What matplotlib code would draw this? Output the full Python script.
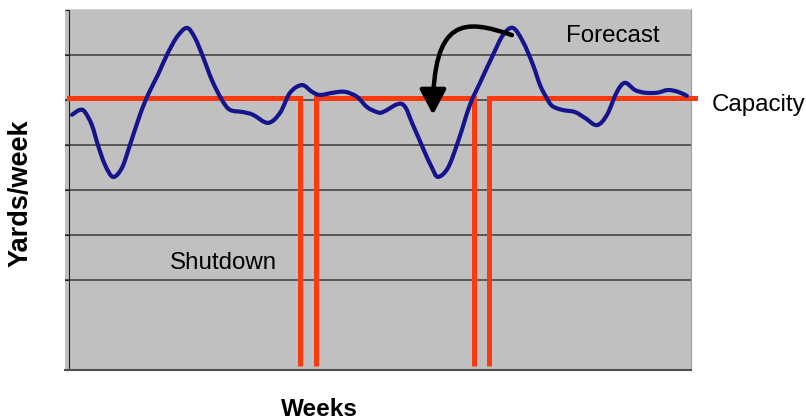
import matplotlib
matplotlib.use("Agg")
import matplotlib.pyplot as plt
import numpy as np
from matplotlib.path import Path
from matplotlib.patches import FancyArrowPatch, PathPatch

plt.rcParams['font.family'] = ['Liberation Sans', 'DejaVu Sans']

# forecast (weeks, yards/week in grid units)
weeks = [0.25, 0.92, 1.34, 1.92, 2.42, 3.01, 3.68, 4.43, 5.10, 5.94, 6.60, 7.44,
         8.19, 9.03, 9.86, 10.53, 11.20, 11.95, 12.79, 13.46, 14.55, 15.38, 16.64,
         17.64, 18.48, 19.48, 20.32, 20.98, 22.07, 23.07, 24.08, 24.92, 25.75, 26.25,
         27.84, 28.76, 29.59, 30.35, 30.85, 31.68, 32.52, 33.52, 34.36, 35.45, 36.28,
         37.12, 37.96, 38.79, 39.38, 39.88, 40.38, 41.21, 42.30, 43.14, 44.14, 44.98,
         45.81, 46.48, 47.32, 48.15, 49.16, 50.07, 50.91, 51.66]
forecast = [5.67, 5.78, 5.73, 5.44, 5.00, 4.56, 4.29, 4.49, 5.00, 5.67, 6.11, 6.56,
            7.00, 7.40, 7.60, 7.38, 6.96, 6.44, 6.00, 5.78, 5.73, 5.67, 5.49,
            5.71, 6.16, 6.33, 6.18, 6.11, 6.16, 6.18, 6.07, 5.84, 5.73, 5.73,
            5.91, 5.44, 4.93, 4.49, 4.29, 4.49, 5.07, 5.89, 6.38, 7.00, 7.44,
            7.60, 7.29, 6.78, 6.33, 6.07, 5.87, 5.78, 5.73, 5.60, 5.44, 5.67,
            6.18, 6.38, 6.22, 6.16, 6.16, 6.22, 6.18, 6.09]

capacity = 6.04
shutdowns = [(19.31, 20.65), (33.86, 35.11)]
floor = 0.08
tick_levels = [0, 2, 3, 4, 5, 6, 7, 8]


def smooth_path(xs, ys):
    # smoothed line like a spreadsheet chart: bezier segments through the points
    p = np.column_stack([xs, ys])
    verts = [p[0]]
    codes = [Path.MOVETO]
    for i in range(len(p) - 1):
        p0 = p[i - 1] if i > 0 else p[i]
        p3 = p[i + 2] if i + 2 < len(p) else p[i + 1]
        c1 = p[i] + (p[i + 1] - p0) / 6
        c2 = p[i + 1] - (p3 - p[i]) / 6
        verts += [c1, c2, p[i + 1]]
        codes += [Path.CURVE4] * 3
    return Path(verts, codes)


fig = plt.figure(figsize=(8.06, 4.19), dpi=100)
ax = fig.add_axes([65 / 806, 49 / 419, 626 / 806, 361 / 419])
ax.set_facecolor('#c0c0c0')
ax.set_xlim(-0.33, 52)
ax.set_ylim(0, 8.02)

for g in range(2, 8):
    ax.axhline(g, color='#3a3a3a', lw=1.1, zorder=1)

# capacity line, broken by the two shutdowns
orange = '#fc3a0e'
starts = [0] + [b for a, b in shutdowns]
ends = [a for a, b in shutdowns] + [52.3]
for s, e in zip(starts, ends):
    ax.plot([s, e], [capacity, capacity], color=orange, lw=3.6,
            solid_capstyle='projecting', zorder=3, clip_on=False)
for a, b in shutdowns:
    for x in (a, b):
        ax.plot([x, x], [floor, capacity], color=orange, lw=3.6,
                solid_capstyle='butt', zorder=3)

ax.add_patch(PathPatch(smooth_path(weeks, forecast), facecolor='none',
                       edgecolor='#14148c', lw=3, joinstyle='round',
                       capstyle='round', zorder=4))

arrow_path = Path([(37.03, 7.44), (33.1, 7.80), (30.43, 7.85), (30.43, 5.67)],
                  [Path.MOVETO, Path.CURVE4, Path.CURVE4, Path.CURVE4])
arrow = FancyArrowPatch(path=arrow_path,
                        arrowstyle='-|>,head_length=0.95,head_width=0.5',
                        mutation_scale=16, color='black', lw=3.2, zorder=5)
ax.add_patch(arrow)

ax.text(41.55, 7.43, 'Forecast', fontsize=17.4, ha='left', va='center')
ax.text(8.4, 2.38, 'Shutdown', fontsize=17.4, ha='left', va='center')
fig.text(712 / 806, 1 - 105 / 419, 'Capacity', fontsize=17.4, ha='left', va='center')
fig.text(319.5 / 806, 1 - 409 / 419, 'Weeks', fontsize=17.5, fontweight='bold',
         ha='center', va='center')
fig.text(21 / 806, 1 - 193 / 419, 'Yards/week', fontsize=19.5, fontweight='bold',
         rotation=90, ha='center', va='center')

ax.set_xticks([])
ax.set_yticks(tick_levels)
ax.set_yticklabels([])
ax.tick_params(axis='y', length=3, width=0.8, color='#202020')
ax.spines['left'].set_position(('data', 0))
ax.spines['left'].set_color('#202020')
ax.spines['bottom'].set_color('#505050')
ax.spines['bottom'].set_linewidth(1.5)
ax.spines['right'].set_color('#9a9a9a')
ax.spines['top'].set_color('#d0d0d0')

fig.savefig('out.png', dpi=100)
